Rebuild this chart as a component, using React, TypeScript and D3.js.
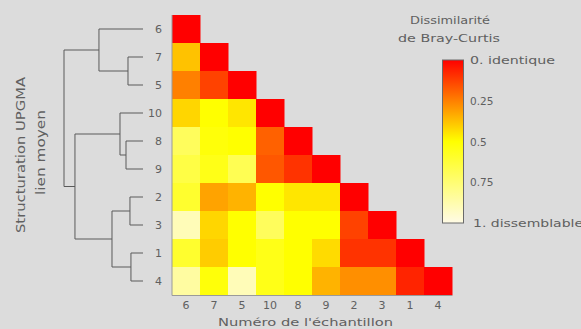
import React from "react";
import * as d3 from "d3";

const samples = ["6", "7", "5", "10", "8", "9", "2", "3", "1", "4"];

// lower-triangular Bray-Curtis dissimilarities (row i, columns 0..i)
const row6 = [0];
const row7 = [0.38, 0];
const row5 = [0.25, 0.13, 0];
const row10 = [0.42, 0.5, 0.45, 0];
const row8 = [0.7, 0.52, 0.5, 0.19, 0];
const row9 = [0.65, 0.55, 0.68, 0.17, 0.1, 0];
const row2 = [0.6, 0.32, 0.35, 0.5, 0.45, 0.45, 0];
const row3 = [0.9, 0.42, 0.5, 0.7, 0.5, 0.5, 0.13, 0];
const row1 = [0.6, 0.4, 0.5, 0.55, 0.5, 0.43, 0.1, 0.1, 0];
const row4 = [0.85, 0.52, 0.9, 0.55, 0.5, 0.35, 0.28, 0.28, 0.07, 0];
const matrix = [row6, row7, row5, row10, row8, row9, row2, row3, row1, row4];

// UPGMA linkage (average linkage): merged clusters and their heights
const linkName = ["A", "B", "C", "D", "E", "F", "G", "H", "R"];
const mergeLeft = ["7", "8", "2", "1", "6", "10", "C", "F", "E"];
const mergeRight = ["5", "9", "3", "4", "A", "B", "D", "G", "H"];
const linkHeight = [0.152, 0.172, 0.132, 0.122, 0.446, 0.233, 0.314, 0.689, 0.8];

const cbTicks = [0, 0.25, 0.5, 0.75, 1];
const cbLabels = ["0. identique", "0.25", "0.5", "0.75", "1. dissemblable"];

const W = 581;
const H = 329;
const FONT = "DejaVu Sans, sans-serif";
const TXT = "#606060";

export default function App() {
  const x = d3.scaleBand().domain(samples).range([172, 452]);
  const y = d3.scaleBand().domain(samples).range([15, 295]);
  const color = d3
    .scaleLinear<string>()
    .domain([0, 0.5, 1])
    .range(["#ff0000", "#ffff00", "#fffbe6"]);
  const hx = d3.scaleLinear().domain([0, 0.8]).range([143, 64]);
  const cbY = d3.scaleLinear().domain([0, 1]).range([60, 223]);

  // dendrogram positions
  const pos: Record<string, { y: number; h: number }> = {};
  samples.forEach((s) => (pos[s] = { y: (y(s) as number) + y.bandwidth() / 2, h: 0 }));
  const segs: { x1: number; y1: number; x2: number; y2: number }[] = [];
  linkName.forEach((name, i) => {
    const a = pos[mergeLeft[i]];
    const b = pos[mergeRight[i]];
    const h = linkHeight[i];
    pos[name] = { y: (a.y + b.y) / 2, h };
    segs.push({ x1: hx(h), y1: a.y, x2: hx(h), y2: b.y });
    segs.push({ x1: hx(a.h), y1: a.y, x2: hx(h), y2: a.y });
    segs.push({ x1: hx(b.h), y1: b.y, x2: hx(h), y2: b.y });
  });

  const cells: { r: string; c: string; v: number }[] = [];
  matrix.forEach((row, i) =>
    row.forEach((v, j) => cells.push({ r: samples[i], c: samples[j], v }))
  );

  const gradStops = d3.range(0, 1.0001, 0.05);

  return (
    <svg
      width={W}
      height={H}
      style={{ position: "absolute", left: 0, top: 0 }}
      fontFamily={FONT}
    >
      <defs>
        <linearGradient id="cb" x1="0" y1="0" x2="0" y2="1">
          {gradStops.map((t) => (
            <stop key={t} offset={t} stopColor={color(t)} />
          ))}
        </linearGradient>
      </defs>
      <rect width={W} height={H} fill="#dcdcdc" />

      {/* heatmap */}
      {cells.map((d) => (
        <rect
          key={d.r + "-" + d.c}
          x={x(d.c)}
          y={y(d.r)}
          width={x.bandwidth() + 0.5}
          height={y.bandwidth() + 0.5}
          fill={color(d.v)}
        />
      ))}
      <line x1={172} y1={15} x2={172} y2={295.5} stroke="#9a9a9a" />
      <line x1={172} y1={295.5} x2={452} y2={295.5} stroke="#9a9a9a" />

      {/* y tick labels */}
      {samples.map((s) => (
        <text
          key={"yl" + s}
          x={162}
          y={(y(s) as number) + y.bandwidth() / 2 + 4}
          textAnchor="end"
          fontSize={11}
          fill={TXT}
        >
          {s}
        </text>
      ))}
      {/* x tick labels */}
      {samples.map((s) => (
        <text
          key={"xl" + s}
          x={(x(s) as number) + x.bandwidth() / 2}
          y={309}
          textAnchor="middle"
          fontSize={11}
          fill={TXT}
        >
          {s}
        </text>
      ))}
      <text
        x={218}
        y={326}
        fontSize={11}
        fill={TXT}
        textLength={175}
        lengthAdjust="spacingAndGlyphs"
      >
        Numéro de l'échantillon
      </text>

      {/* dendrogram */}
      {segs.map((s, i) => (
        <line
          key={"sg" + i}
          x1={s.x1}
          y1={s.y1}
          x2={s.x2}
          y2={s.y2}
          stroke="#5a5a5a"
          strokeWidth={1}
        />
      ))}
      <text
        transform="translate(25,233) rotate(-90)"
        fontSize={11.5}
        fill={TXT}
        textLength={156}
        lengthAdjust="spacingAndGlyphs"
      >
        Structuration UPGMA
      </text>
      <text
        transform="translate(45,195) rotate(-90)"
        fontSize={11.5}
        fill={TXT}
        textLength={85}
        lengthAdjust="spacingAndGlyphs"
      >
        lien moyen
      </text>

      {/* colorbar */}
      <text
        x={410}
        y={24}
        fontSize={10.5}
        fill={TXT}
        textLength={80}
        lengthAdjust="spacingAndGlyphs"
      >
        Dissimilarité
      </text>
      <text
        x={398}
        y={42}
        fontSize={10.5}
        fill={TXT}
        textLength={102}
        lengthAdjust="spacingAndGlyphs"
      >
        de Bray-Curtis
      </text>
      <rect
        x={442.5}
        y={cbY(0)}
        width={21}
        height={cbY(1) - cbY(0)}
        fill="url(#cb)"
        stroke="#6a6a6a"
        strokeWidth={1}
      />
      {cbTicks.map((t, i) => (
        <text
          key={"cb" + i}
          x={i === 4 ? 473 : 470}
          y={cbY(t) + 4}
          fontSize={10.5}
          fill={TXT}
          textLength={i === 0 ? 85 : i === 4 ? 110 : undefined}
          lengthAdjust="spacingAndGlyphs"
        >
          {cbLabels[i]}
        </text>
      ))}
    </svg>
  );
}
